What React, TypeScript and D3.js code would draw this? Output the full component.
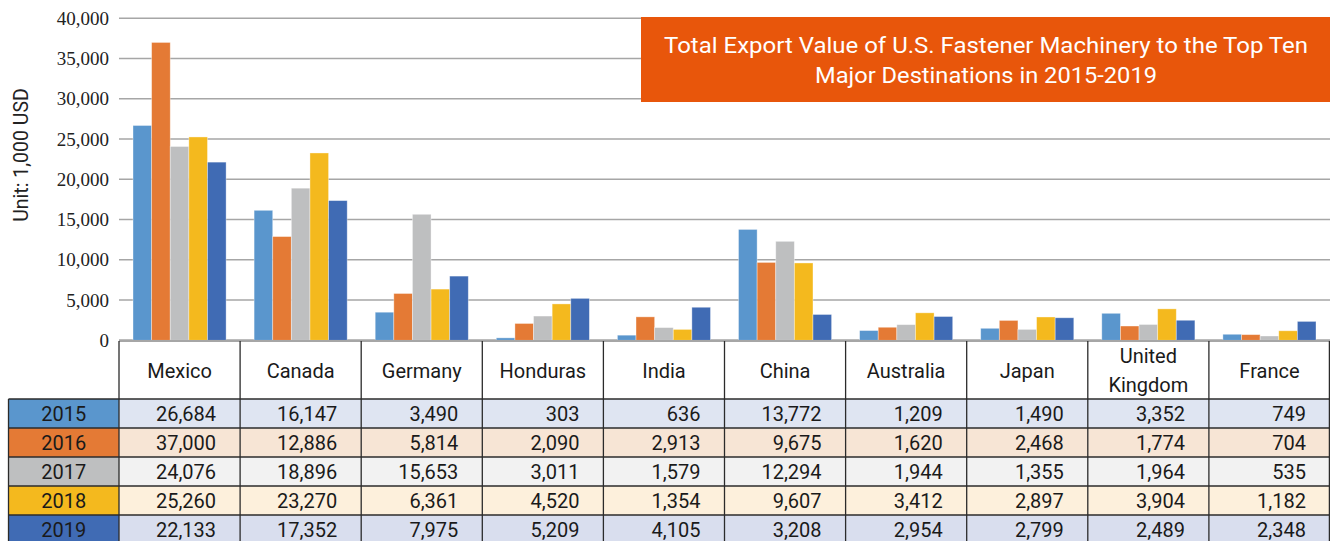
import React from "react";
import * as d3 from "d3";

const categories = ["Mexico", "Canada", "Germany", "Honduras", "India", "China", "Australia", "Japan", "United Kingdom", "France"];
const years = ["2015", "2016", "2017", "2018", "2019"];
const v2015 = [26684, 16147, 3490, 303, 636, 13772, 1209, 1490, 3352, 749];
const v2016 = [37000, 12886, 5814, 2090, 2913, 9675, 1620, 2468, 1774, 704];
const v2017 = [24076, 18896, 15653, 3011, 1579, 12294, 1944, 1355, 1964, 535];
const v2018 = [25260, 23270, 6361, 4520, 1354, 9607, 3412, 2897, 3904, 1182];
const v2019 = [22133, 17352, 7975, 5209, 4105, 3208, 2954, 2799, 2489, 2348];
const series = [v2015, v2016, v2017, v2018, v2019];
const yTicks = [0, 5000, 10000, 15000, 20000, 25000, 30000, 35000, 40000];
const barColors = ["#5a96cd", "#e47a35", "#bebfc0", "#f4b91e", "#406bb4"];
const rowBg = ["#dfe5f2", "#f7e5d5", "#f2f2f2", "#fdf0dc", "#d9deee"];
const titleLines = ["Total Export Value of U.S. Fastener Machinery to the Top Ten", "Major Destinations in 2015-2019"];
const yLabel = "Unit: 1,000 USD";

const W = 1330;
const H = 541;
const plotLeft = 119;
const plotRight = 1330;
const yTop = 18.3;
const yBottom = 340.3;
const headerTop = 341;
const headerBottom = 399;
const rowH = 29;
const labelLeft = 8.5;

export default function App() {
  const x = d3.scaleBand<string>().domain(categories).range([plotLeft, plotRight]).padding(0);
  const bw = x.bandwidth();
  const inner = d3.scaleBand<string>().domain(years).range([14, bw - 14]).padding(0);
  const y = d3.scaleLinear().domain([0, 40000]).range([yBottom, yTop]);
  const fmt = d3.format(",");
  const sans = "Roboto, 'Noto Sans', sans-serif";
  const serif = "'Liberation Serif', 'DejaVu Serif', 'Times New Roman', serif";
  const lineColor = "#2b2b2b";

  return (
    <svg width={W} height={H} style={{ position: "absolute", left: 0, top: 0, background: "#fff" }}>
      {/* gridlines */}
      {yTicks.map((t) => (
        <line key={"g" + t} x1={plotLeft} x2={plotRight} y1={y(t)} y2={y(t)} stroke="#a6a6a6" strokeWidth={t === 0 ? 2.2 : 1.5} />
      ))}
      {/* tick labels */}
      {yTicks.map((t) => (
        <text key={"t" + t} x={109} y={y(t)} dy="0.34em" textAnchor="end" style={{ fontFamily: serif, fontSize: "19px" }} fill="#222">
          {fmt(t)}
        </text>
      ))}
      {/* y label */}
      <text transform={`translate(28,155) rotate(-90)`} textAnchor="middle" fontFamily={sans} fontSize={19.5} fill="#222">
        {yLabel}
      </text>
      {/* bars */}
      {categories.map((c, ci) => (
        <g key={"b" + c} transform={`translate(${x(c)},0)`}>
          {series.map((s, si) => (
            <rect
              key={si}
              x={inner(years[si])}
              y={y(s[ci])}
              width={inner.bandwidth()}
              height={yBottom - y(s[ci])}
              fill={barColors[si]}
              stroke="#ffffff"
              strokeOpacity={0.45}
              strokeWidth={0.8}
            />
          ))}
        </g>
      ))}
      {/* title box */}
      <rect x={641} y={17} width={W - 641} height={85} fill="#e8560b" />
      {titleLines.map((l, i) => (
        <text
          key={"tl" + i}
          x={986}
          y={53 + i * 30}
          textAnchor="middle"
          fontFamily={sans}
          fontSize={22}
          fill="#ffffff"
          textLength={i === 0 ? 644 : 342}
          lengthAdjust="spacingAndGlyphs"
        >
          {l}
        </text>
      ))}
      {/* table: header */}
      <rect x={plotLeft} y={headerTop} width={plotRight - plotLeft} height={headerBottom - headerTop} fill="#fff" />
      <line x1={plotLeft} x2={plotRight} y1={headerTop} y2={headerTop} stroke="#a6a6a6" strokeWidth={2.2} />
      {categories.map((c) => {
        const parts = c === "United Kingdom" ? ["United", "Kingdom"] : [c];
        const cx = (x(c) as number) + bw / 2;
        return (
          <g key={"h" + c}>
            {parts.length === 1 ? (
              <text x={cx} y={378} textAnchor="middle" fontFamily={sans} fontSize={20} fill="#1a1a1a">
                {parts[0]}
              </text>
            ) : (
              parts.map((p, pi) => (
                <text key={pi} x={cx} y={363 + pi * 29} textAnchor="middle" fontFamily={sans} fontSize={20} fill="#1a1a1a">
                  {p}
                </text>
              ))
            )}
          </g>
        );
      })}
      {/* table rows */}
      {years.map((yr, ri) => {
        const top = headerBottom + ri * rowH;
        return (
          <g key={"r" + yr}>
            <rect x={labelLeft} y={top} width={plotLeft - labelLeft} height={rowH} fill={barColors[ri]} />
            <rect x={plotLeft} y={top} width={plotRight - plotLeft} height={rowH} fill={rowBg[ri]} />
            <text x={(labelLeft + plotLeft) / 2} y={top + rowH / 2} dy="0.36em" textAnchor="middle" fontFamily={sans} fontSize={20} fill="#1a1a1a">
              {yr}
            </text>
            {categories.map((c, ci) => (
              <text
                key={c}
                x={(x(c) as number) + bw - 24}
                y={top + rowH / 2}
                dy="0.36em"
                textAnchor="end"
                fontFamily={sans}
                fontSize={20}
                fill="#1a1a1a"
              >
                {fmt(series[ri][ci])}
              </text>
            ))}
          </g>
        );
      })}
      {/* table grid lines */}
      {d3.range(0, years.length + 1).map((i) => (
        <line key={"hl" + i} x1={labelLeft} x2={plotRight} y1={headerBottom + i * rowH} y2={headerBottom + i * rowH} stroke={lineColor} strokeWidth={1.3} />
      ))}
      <line x1={labelLeft} x2={labelLeft} y1={headerBottom} y2={H} stroke={lineColor} strokeWidth={1.3} />
      {categories.map((c) => (
        <line key={"vl" + c} x1={x(c) as number} x2={x(c) as number} y1={headerTop} y2={H} stroke={lineColor} strokeWidth={1.3} />
      ))}
      <line x1={plotRight - 0.6} x2={plotRight - 0.6} y1={headerTop} y2={H} stroke={lineColor} strokeWidth={1.3} />
    </svg>
  );
}
